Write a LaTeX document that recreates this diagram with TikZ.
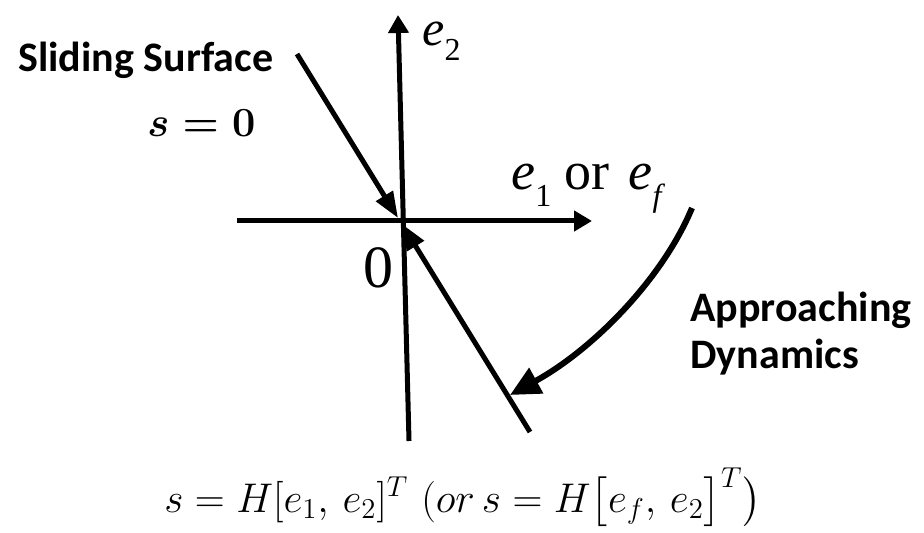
\documentclass[tikz,border=0pt]{standalone}
\usepackage{amsmath}
\usepackage{fontspec}
\usepackage{tikz}
\usetikzlibrary{positioning,arrows.meta}
\newfontfamily\calibrifont{Carlito}
\newfontfamily\timesfont{Liberation Serif}
\newcommand{\esub}[1]{\raisebox{-0.3em}{\fontsize{16}{16}\selectfont #1}}

\begin{document}
\begin{tikzpicture}[
    x=0.5pt, y=-0.5pt,
    axis/.style={line width=2.5pt, -{Triangle[length=9pt, width=10pt]}},
    slide/.style={line width=2.5pt, -{Triangle[length=13pt, width=9.5pt]}},
    approach/.style={line width=3pt, -{Triangle[length=15pt, width=14pt]}},
    lbl/.style={font=\calibrifont\bfseries\fontsize{21}{24}\selectfont, inner sep=0pt},
    sym/.style={font=\timesfont\fontsize{27}{30}\selectfont, inner sep=0pt}
  ]
  \useasboundingbox (0,0) rectangle (924,533);

  % --- plan de phase (e1, e2) ---------------------------------------------
  \coordinate (org)  at (400,221);
  \coordinate (vbot) at (409,441);
  \coordinate (vtop) at (398,15);
  \coordinate (hlft) at (237,221);
  \coordinate (hrgt) at (592,221);
  \draw[axis] (vbot) -- (vtop);
  \draw[axis] (hlft) -- (hrgt);

  \node[sym, anchor=base west, font=\timesfont\fontsize{25}{28}\selectfont] (etwo) at (422,46) {\textit{e}\esub{2}};
  \node[sym, anchor=base west] (eone) at (511,190) {\textit{e}\esub{1} or\hspace{0.35em}\textit{e}\esub{\textit{f}}};
  \node[sym, font=\timesfont\fontsize{30}{32}\selectfont] (zero) at (378,268) {0};

  % --- surface de glissement s = 0 ----------------------------------------
  \coordinate (stop) at (297,54);
  \coordinate (sbot) at (530,432);
  \coordinate (shit) at (398,218);
  \coordinate (slow) at (402,224);
  \draw[slide] (stop) -- (shit);
  \draw[slide] (sbot) -- (slow);

  \node[lbl, anchor=base west] (slidlbl) at (18,72) {Sliding Surface};
  \node[anchor=base west, inner sep=0pt, font=\fontsize{21.5}{22}\selectfont] (szero) at (147,137) {$\boldsymbol{s=0}$};

  % --- dynamique d'approche -----------------------------------------------
  \coordinate (cstart) at (692,208);
  \coordinate (ctip)   at (510,395);
  \draw[approach] (cstart) .. controls (662,280) and (592,350) .. (ctip);

  \node[lbl, anchor=base west] (appr)  at (690,322) {Approaching};
  \node[lbl, anchor=base west] (dyna)  at (690,368) {Dynamics};

  % --- loi de la surface ---------------------------------------------------
  \node[anchor=base east, inner sep=0pt, font=\fontsize{21.5}{26}\selectfont] (law) at (762,512)
    {$s = H[e_1,\, e_2]^T\ (or\, s = H\bigl[e_f,\, e_2\bigr]^T\bigr)$};

\end{tikzpicture}
\end{document}
